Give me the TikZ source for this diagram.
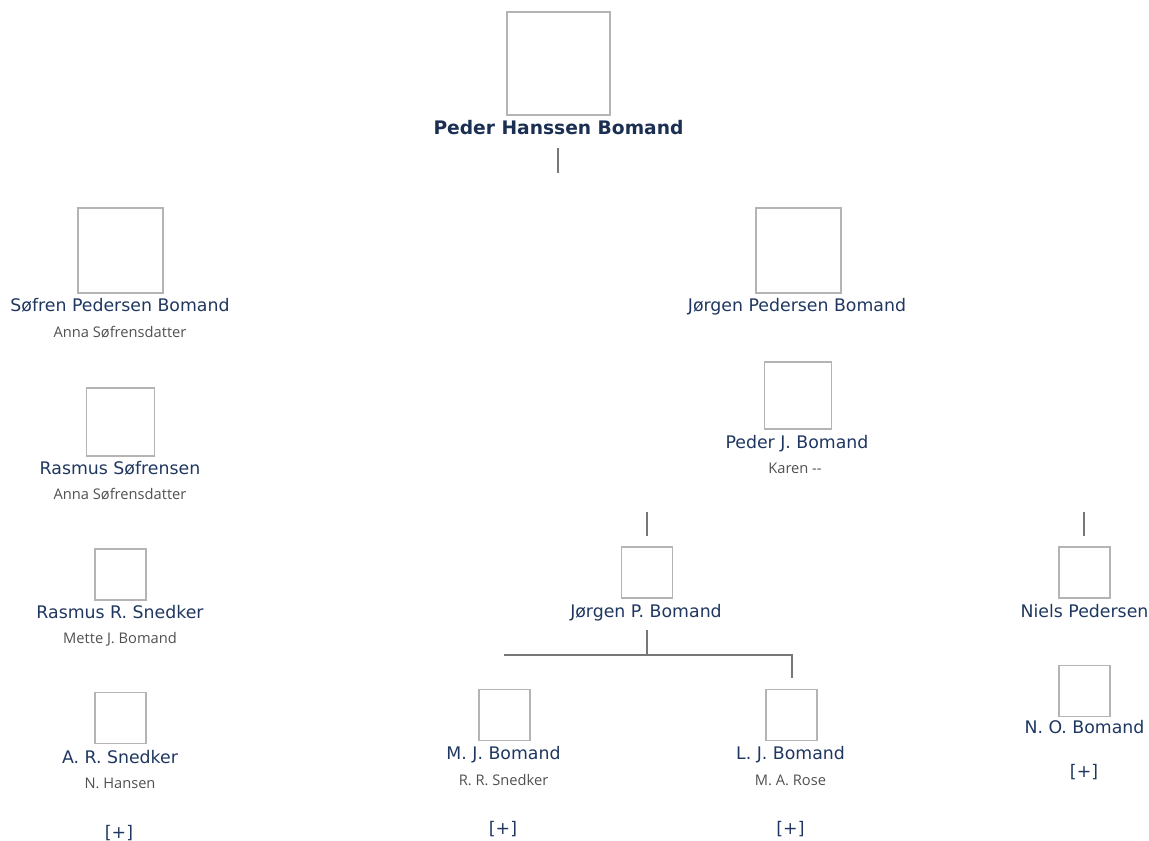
\documentclass[tikz,border=0pt]{standalone}
\usepackage{fontspec}
\setmainfont{DejaVu Sans}
\newfontfamily\spousefont{Open Sans}
\definecolor{namecol}{HTML}{1F3760}
\definecolor{boldcol}{HTML}{1A2F52}
\definecolor{subcol}{HTML}{505050}
\definecolor{boxcol}{HTML}{B4B4B4}
\definecolor{linecol}{HTML}{777777}
\tikzset{
  photo/.style={draw=boxcol, line width=1.1pt, fill=white, inner sep=0pt, minimum size=#1*0.75pt},
  pname/.style={text=namecol, font=\fontsize{13}{15}\selectfont, inner sep=0pt, anchor=base},
  rootname/.style={text=boldcol, font=\bfseries\fontsize{14}{16}\selectfont, inner sep=0pt, anchor=base},
  spouse/.style={text=subcol, font=\spousefont\fontsize{11}{13}\selectfont, inner sep=0pt, anchor=base},
  more/.style={text=namecol, font=\fontsize{13}{15}\selectfont, inner sep=0pt, anchor=base},
  conn/.style={draw=linecol, line width=2.2pt},
  thinconn/.style={draw=linecol, line width=1.5pt}
}
\begin{document}
\begin{tikzpicture}[x=0.75pt,y=-0.75pt]
\useasboundingbox (0,0) rectangle (1149,841);
% root
\node[photo=103] (b0) at (558.5,63.5) {};
\node[rootname] (n0) at (558.5,135) {Peder Hanssen Bomand};
\coordinate (c0a) at (558,148);
\coordinate (c0b) at (558,173);
\draw[conn] (c0a) -- (c0b);
% left column
\node[photo=85] (b1) at (120.5,250.5) {};
\node[pname] (n1) at (120,312) {Søfren Pedersen Bomand};
\node[spouse] (s1) at (120,338) {Anna Søfrensdatter};
\node[photo=68] (b2) at (120.5,422) {};
\node[pname] (n2) at (120,474) {Rasmus Søfrensen};
\node[spouse] (s2) at (120,499) {Anna Søfrensdatter};
\node[photo=51] (b3) at (120.5,574.5) {};
\node[pname] (n3) at (120,618) {Rasmus R. Snedker};
\node[spouse] (s3) at (120,643) {Mette J. Bomand};
\node[photo=51] (b4) at (120.5,718) {};
\node[pname] (n4) at (120,763) {A. R. Snedker};
\node[spouse] (s4) at (120,788) {N. Hansen};
\node[more] (m4) at (119,838) {[+]};
% right branch
\node[photo=85] (b5) at (798.5,250.5) {};
\node[pname] (n5) at (797,312) {Jørgen Pedersen Bomand};
\node[photo=67] (b6) at (798,395.5) {};
\node[pname] (n6) at (797,448) {Peder J. Bomand};
\node[spouse] (s6) at (795,473) {Karen --};
% Jørgen P.
\coordinate (c7a) at (647,512);
\coordinate (c7b) at (647,536);
\draw[conn] (c7a) -- (c7b);
\node[photo=51] (b7) at (647,572.5) {};
\node[pname] (n7) at (646,617) {Jørgen P. Bomand};
\coordinate (c7c) at (647,630);
\coordinate (c7d) at (647,655);
\coordinate (barL) at (504,655);
\coordinate (barR) at (792,655);
\coordinate (dropR) at (792,678);
\draw[conn] (c7c) -- (c7d);
\draw[conn] (barL) -- (barR) -- (dropR);
% M. J.
\node[photo=51] (b8) at (504.5,715) {};
\node[pname] (n8) at (503.5,759) {M. J. Bomand};
\node[spouse] (s8) at (503.5,785) {R. R. Snedker};
\node[more] (m8) at (503,834) {[+]};
% L. J.
\node[photo=51] (b9) at (791.5,715) {};
\node[pname] (n9) at (790.5,759) {L. J. Bomand};
\node[spouse] (s9) at (790.5,785) {M. A. Rose};
\node[more] (m9) at (790.5,834) {[+]};
% Niels
\coordinate (c10a) at (1084,512);
\coordinate (c10b) at (1084,536);
\draw[thinconn] (c10a) -- (c10b);
\node[photo=51] (b10) at (1084.5,572.5) {};
\node[pname] (n10) at (1084.5,617) {Niels Pedersen};
\node[photo=51] (b11) at (1084.5,691) {};
\node[pname] (n11) at (1084.5,733) {N. O. Bomand};
\node[more] (m11) at (1084,777) {[+]};
\end{tikzpicture}
\end{document}
